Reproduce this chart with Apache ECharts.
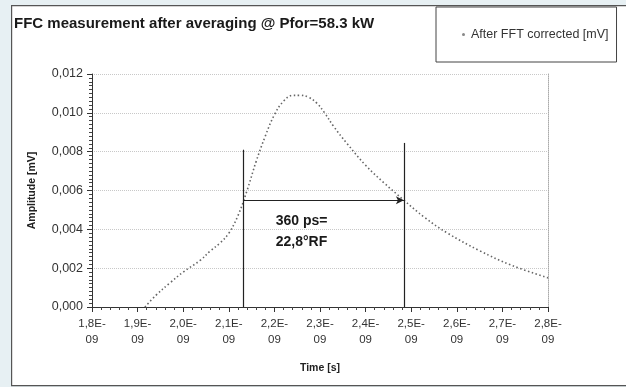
<!DOCTYPE html>
<html><head><meta charset="utf-8">
<script src="https://cdn.jsdelivr.net/npm/echarts@6/dist/echarts.min.js"></script>
<style>html,body{margin:0;padding:0;background:#e7f0f3;}#c{width:626px;height:387px;}</style>
</head><body><div id="c"></div>
<script>
// Time in ns (axis labels shown as seconds in E-09 notation)
const timeNs = [1.916, 1.94, 1.971, 2.0, 2.037, 2.06, 2.081, 2.1, 2.12, 2.14, 2.16, 2.18, 2.2, 2.22, 2.24, 2.256, 2.275, 2.293, 2.31, 2.33, 2.36, 2.4, 2.44, 2.484, 2.53, 2.58, 2.65, 2.72, 2.8];
const amplitude = [0, 0.0006, 0.00124, 0.0018, 0.0024, 0.0029, 0.0033, 0.0038, 0.0047, 0.0060, 0.0075, 0.0088, 0.0099, 0.0106, 0.0109, 0.0109, 0.0108, 0.0105, 0.0100, 0.0093, 0.0084, 0.0073, 0.0064, 0.0055, 0.0046, 0.0038, 0.0029, 0.00215, 0.0015];
const xTickLabels = ["1,8E-\n09","1,9E-\n09","2,0E-\n09","2,1E-\n09","2,2E-\n09","2,3E-\n09","2,4E-\n09","2,5E-\n09","2,6E-\n09","2,7E-\n09","2,8E-\n09"];
const yTickLabels = ["0,000","0,002","0,004","0,006","0,008","0,010","0,012"];
// annotation: FWHM markers
const markerLeft = [2.131, 0.0081];
const markerRight = [2.484, 0.00845];
const halfLevel = 0.0055;
const annotationPos = [2.203, 0.0039];
const annotationText = "360 ps=\n22,8°RF";
const seriesName = "After FFT corrected [mV]";

const chart = echarts.init(document.getElementById('c'), null, {renderer:'canvas'});
const FONT = '"Liberation Sans", Arial, sans-serif';
chart.setOption({
  backgroundColor: 'transparent',
  animation: false,
  graphic: [{
    type: 'rect', left: 11, top: 5, shape: {width: 640, height: 380},
    style: {fill: '#fff', stroke: '#555', lineWidth: 1.2}, z: -10
  }],
  title: {
    text: 'FFC measurement after averaging @ Pfor=58.3 kW',
    left: 9, top: 11,
    textStyle: {fontFamily: FONT, fontSize: 15, fontWeight: 'bold', color: '#1a1a1a'}
  },
  legend: {
    left: 436, top: 7, itemGap: 0,
    orient: 'vertical',
    padding: [21, 8, 21, 26],
    borderColor: '#444', borderWidth: 1,
    backgroundColor: '#fff',
    icon: 'circle', itemWidth: 3, itemHeight: 3,
    textStyle: {fontFamily: FONT, fontSize: 12.5, color: '#333', padding: [0,0,0,1]},
    data: [{name: seriesName, itemStyle: {color: '#888'}}]
  },
  grid: {left: 92, right: 78, top: 74, bottom: 80},
  xAxis: {
    type: 'value', min: 1.8, max: 2.8, interval: 0.1,
    name: 'Time [s]', nameLocation: 'middle', nameGap: 56,
    nameTextStyle: {fontFamily: FONT, fontSize: 10.5, fontWeight: 'bold', color: '#222'},
    axisLine: {lineStyle: {color: '#333', width: 1}},
    axisTick: {show: true, length: 5, inside: false, lineStyle: {color: '#333'}},
    minorTick: {show: true, splitNumber: 5, length: 3, lineStyle: {color: '#444'}},
    splitLine: {show: false},
    axisLabel: {
      fontFamily: FONT, fontSize: 11.5, color: '#333', lineHeight: 16, margin: 9,
      formatter: v => xTickLabels[Math.round((v - 1.8) * 10)]
    }
  },
  yAxis: [{
    type: 'value', min: 0, max: 0.012, interval: 0.002,
    name: 'Amplitude [mV]', nameLocation: 'middle', nameGap: 54, nameRotate: 90,
    nameTextStyle: {fontFamily: FONT, fontSize: 10.5, fontWeight: 'bold', color: '#222'},
    axisLine: {show: true, lineStyle: {color: '#333', width: 1}},
    axisTick: {show: true, length: 5, lineStyle: {color: '#333'}},
    minorTick: {show: true, splitNumber: 10, length: 3, lineStyle: {color: '#444'}},
    splitLine: {show: true, lineStyle: {color: '#c8c8c8', type: 'dotted', width: 1}},
    axisLabel: {
      fontFamily: FONT, fontSize: 12.5, color: '#333', margin: 9,
      formatter: v => yTickLabels[Math.round(v / 0.002)]
    }
  }, {
    type: 'value', position: 'right', min: 0, max: 0.012, interval: 0.002,
    axisLine: {show: true, lineStyle: {color: '#aaa', type: 'dotted', width: 1}},
    axisTick: {show: false}, axisLabel: {show: false}, splitLine: {show: false}
  }],
  series: [{
    name: seriesName,
    type: 'line',
    data: timeNs.map((t, i) => [t, amplitude[i]]),
    smooth: 0.4,
    showSymbol: false,
    lineStyle: {color: '#666', width: 1.6, type: [1.5, 2.5]},
    itemStyle: {color: '#777'},
    markLine: {
      silent: true, animation: false,
      label: {show: false},
      lineStyle: {color: '#222', width: 1.2, type: 'solid'},
      data: [
        [{coord: [markerLeft[0], 0], symbol: 'none'}, {coord: markerLeft, symbol: 'none'}],
        [{coord: [markerRight[0], 0], symbol: 'none'}, {coord: markerRight, symbol: 'none'}],
        [{coord: [markerLeft[0], halfLevel], symbol: 'none'}, {coord: [markerRight[0], halfLevel], symbol: 'arrow', symbolSize: [6, 8]}]
      ]
    },
    markPoint: {
      silent: true, symbol: 'circle', symbolSize: 0,
      data: [{coord: annotationPos, value: annotationText}],
      label: {
        show: true, position: 'inside', formatter: annotationText, align: 'left',
        fontFamily: FONT, fontSize: 14, fontWeight: 'bold', color: '#1a1a1a', lineHeight: 21
      }
    }
  }]
});
</script></body></html>
